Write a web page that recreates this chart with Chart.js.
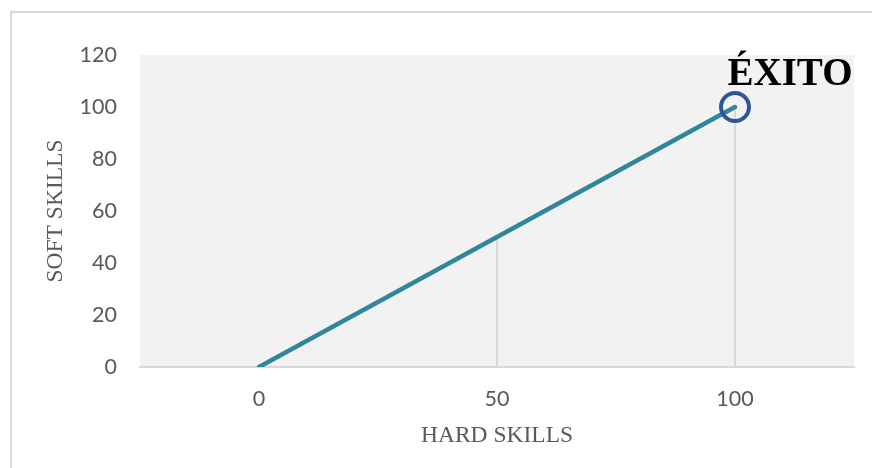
<!DOCTYPE html>
<html>
<head>
<meta charset="utf-8">
<script src="https://cdn.jsdelivr.net/npm/chart.js@4.4.1/dist/chart.umd.min.js"></script>
<style>
  html, body { margin: 0; padding: 0; background: #ffffff; }
  #wrap { position: relative; width: 872px; height: 468px; }
  #frame { position: absolute; left: 10px; top: 11px; right: -2px; bottom: -2px;
           border-left: 2px solid #d9d9d9; border-top: 2px solid #d9d9d9; pointer-events: none; }
  canvas { position: absolute; left: 0; top: 0; }
</style>
</head>
<body>
<div id="wrap">
  <canvas id="chart" width="872" height="468"></canvas>
  <div id="frame"></div>
</div>
<script>
// Hard skills on the horizontal axis, soft skills on the vertical one
const hardSkills = ['0', '50', '100'];
const softSkills = [0, 50, 100];
const pointNotes = ['', '', 'ÉXITO'];
const yTicks = [0, 20, 40, 60, 80, 100, 120];

const xTitle = 'HARD SKILLS';
const yTitle = 'SOFT SKILLS';

const tickFont = { family: 'Lato, "Open Sans", sans-serif', size: 21.5 };
const titleFont = { family: '"Liberation Serif", "Times New Roman", serif', size: 23.5 };

// grey plot background
const plotBackground = {
  id: 'plotBackground',
  beforeDraw(chart) {
    const { ctx, chartArea: a } = chart;
    ctx.save();
    ctx.fillStyle = '#f2f2f2';
    ctx.fillRect(a.left, a.top, a.right - a.left, a.bottom - a.top);
    ctx.restore();
  }
};

// vertical drop lines from each point to the horizontal axis
const dropLines = {
  id: 'dropLines',
  beforeDatasetsDraw(chart) {
    const { ctx } = chart;
    const meta = chart.getDatasetMeta(0);
    const yBase = chart.scales.y.getPixelForValue(0);
    ctx.save();
    ctx.strokeStyle = '#d9d9d9';
    ctx.lineWidth = 2;
    meta.data.forEach(pt => {
      ctx.beginPath();
      ctx.moveTo(pt.x, pt.y);
      ctx.lineTo(pt.x, yBase);
      ctx.stroke();
    });
    ctx.restore();
  }
};

// text note above a point
const notes = {
  id: 'notes',
  afterDatasetsDraw(chart) {
    const { ctx } = chart;
    const meta = chart.getDatasetMeta(0);
    ctx.save();
    ctx.fillStyle = '#000000';
    ctx.font = 'bold 39px "Liberation Serif", "Times New Roman", serif';
    ctx.textAlign = 'center';
    ctx.textBaseline = 'alphabetic';
    meta.data.forEach((pt, i) => {
      if (pointNotes[i]) ctx.fillText(pointNotes[i], pt.x + 55, pt.y - 22);
    });
    ctx.restore();
  }
};

new Chart(document.getElementById('chart'), {
  type: 'line',
  data: {
    labels: hardSkills,
    datasets: [{
      data: softSkills,
      borderColor: '#31859c',
      borderWidth: 4.5,
      borderCapStyle: 'round',
      tension: 0,
      fill: false,
      pointRadius: softSkills.map((v, i) => pointNotes[i] ? 14 : 0),
      pointBorderWidth: 4,
      pointBorderColor: '#2f5597',
      pointBackgroundColor: 'rgba(0,0,0,0)',
      pointHoverRadius: 0
    }]
  },
  options: {
    responsive: false,
    animation: false,
    events: [],
    layout: { padding: { left: 0, top: 55, right: 12, bottom: 0 } },
    plugins: { legend: { display: false }, tooltip: { enabled: false } },
    scales: {
      x: {
        type: 'category',
        offset: true,
        grid: { display: false, drawTicks: false },
        border: { display: true, color: '#d9d9d9', width: 2 },
        ticks: { color: '#595959', font: tickFont, padding: 19, maxRotation: 0 },
        title: { display: true, text: xTitle, color: '#595959', font: titleFont, padding: { top: 0, bottom: 18 } },
        afterFit(scale) { scale.height = 101; }
      },
      y: {
        min: 0,
        max: 120,
        afterBuildTicks(scale) { scale.ticks = yTicks.map(v => ({ value: v })); },
        grid: { display: false, drawTicks: false },
        border: { display: false },
        ticks: { color: '#595959', font: tickFont, padding: 23 },
        title: { display: true, text: yTitle, color: '#595959', font: titleFont, padding: { top: 42, bottom: 0 } },
        afterFit(scale) { scale.width = 140; }
      }
    }
  },
  plugins: [plotBackground, dropLines, notes]
});
</script>
</body>
</html>
